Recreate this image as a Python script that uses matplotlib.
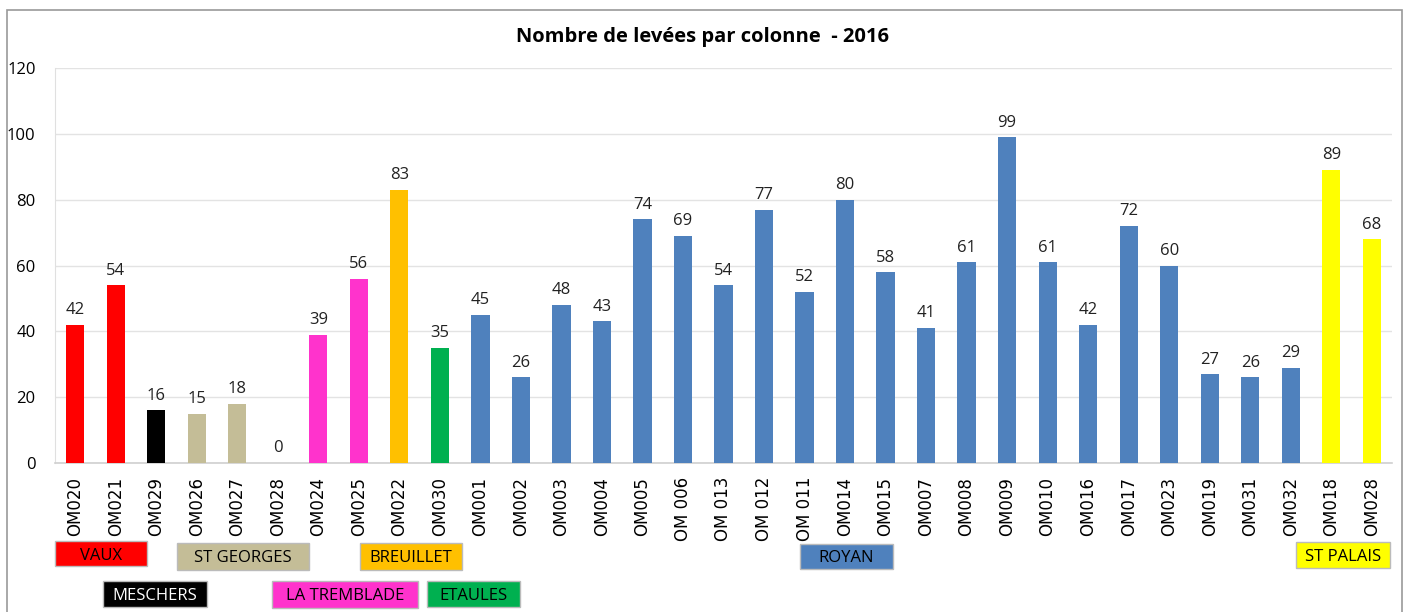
import matplotlib.pyplot as plt
from matplotlib.patches import Rectangle

colonnes = ["OM020", "OM021", "OM029", "OM026", "OM027", "OM028", "OM024", "OM025",
            "OM022", "OM030", "OM001", "OM002", "OM003", "OM004", "OM005", "OM 006",
            "OM 013", "OM 012", "OM 011", "OM014", "OM015", "OM007", "OM008", "OM009",
            "OM010", "OM016", "OM017", "OM023", "OM019", "OM031", "OM032", "OM018", "OM028"]
levees = [42, 54, 16, 15, 18, 0, 39, 56, 83, 35, 45, 26, 48, 43, 74, 69, 54, 77, 52,
          80, 58, 41, 61, 99, 61, 42, 72, 60, 27, 26, 29, 89, 68]
communes = (["VAUX"] * 2 + ["MESCHERS"] + ["ST GEORGES"] * 3 + ["LA TREMBLADE"] * 2
            + ["BREUILLET"] + ["ETAULES"] + ["ROYAN"] * 21 + ["ST PALAIS"] * 2)

couleurs = {
    "VAUX": "#FF0000",
    "MESCHERS": "#000000",
    "ST GEORGES": "#C4BD97",
    "LA TREMBLADE": "#FF33CC",
    "BREUILLET": "#FFC000",
    "ETAULES": "#00B050",
    "ROYAN": "#4F81BD",
    "ST PALAIS": "#FFFF00",
}

# legend boxes: (x0, y0, x1, y1) in figure pixels, from top-left
boites = {
    "VAUX": (55, 541, 147, 566),
    "ST GEORGES": (177, 543, 309, 570),
    "BREUILLET": (360, 543, 462, 570),
    "MESCHERS": (103, 581, 207, 607),
    "LA TREMBLADE": (272, 581, 418, 608),
    "ETAULES": (427, 581, 520, 607),
    "ROYAN": (800, 544, 893, 569),
    "ST PALAIS": (1296, 542, 1390, 568),
}

W, H = 1406, 612
fig = plt.figure(figsize=(W / 100, H / 100), dpi=100)
ax = fig.add_axes([55 / W, 1 - 463 / H, (1392 - 55) / W, (463 - 68) / H])

x = range(len(colonnes))
bars = ax.bar(x, levees, width=0.45, color=[couleurs[c] for c in communes], zorder=3)
for b, v in zip(bars, levees):
    ax.text(b.get_x() + b.get_width() / 2, v + 2, str(v), ha="center", va="bottom",
            fontsize=12, family="Open Sans", color="#222222")

ax.set_xlim(-0.5, len(colonnes) - 0.5)
ax.set_ylim(0, 120)
ax.set_yticks(range(0, 121, 20))
ax.set_xticks(list(x))
ax.set_xticklabels(colonnes, rotation=90, fontsize=12, family="DejaVu Sans")
ax.tick_params(axis="both", length=0, pad=10)
ax.tick_params(axis="y", labelsize=12, pad=14)
for lab in ax.get_yticklabels():
    lab.set_family("Open Sans")
ax.grid(axis="y", color="#E3E3E3", linewidth=1, zorder=0)
for s in ["top", "right"]:
    ax.spines[s].set_visible(False)
ax.spines["left"].set_color("#E0E0E0")
ax.spines["bottom"].set_color("#D0D0D0")
ax.spines["bottom"].set_linewidth(1.2)

fig.text(0.5, 1 - 37 / H, "Nombre de levées par colonne  - 2016", ha="center", va="center",
         fontsize=14.5, fontweight="bold", family="Open Sans")

for nom, (x0, y0, x1, y1) in boites.items():
    fig.patches.append(Rectangle((x0 / W, 1 - y1 / H), (x1 - x0) / W, (y1 - y0) / H,
                                 transform=fig.transFigure, facecolor=couleurs[nom],
                                 edgecolor="#BBBBBB", linewidth=1))
    fig.text((x0 + x1) / 2 / W, 1 - (y0 + y1) / 2 / H, nom, ha="center",
             va="center_baseline", fontsize=12, family="Open Sans",
             color="white" if nom == "MESCHERS" else "black")

# outer chart frame
fig.patches.append(Rectangle((7 / W, -0.05), (1402 - 7) / W, 1.05 - 10 / H,
                             transform=fig.transFigure, fill=False,
                             edgecolor="#999999", linewidth=1.2))

fig.savefig("out.png", dpi=100)
